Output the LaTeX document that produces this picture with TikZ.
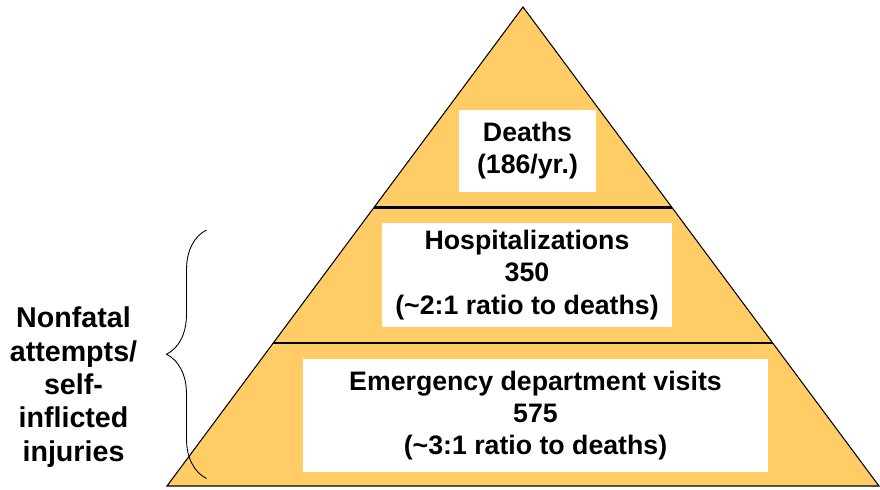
\documentclass[tikz,border=0pt]{standalone}
\usepackage{fontspec}
\setmainfont{Liberation Sans}
\usetikzlibrary{calc,decorations.pathreplacing}

\definecolor{pyrfill}{RGB}{255,204,102}

\begin{document}
\begin{tikzpicture}[tierbox/.style={fill=white,align=center,inner sep=0pt,font=\bfseries\fontsize{15.2}{18.3}\selectfont},
  tierline/.style={line width=1.6pt}]

  \useasboundingbox (0,0) rectangle (17.6,9.78);

  \coordinate (top) at (10.46,9.64);
  \coordinate (bl) at (3.34,0.06);
  \coordinate (br) at (17.58,0.06);

  \draw[fill=pyrfill,line width=0.6pt] (top) -- (bl) -- (br) -- cycle;

  \coordinate (l1) at ($(top)!0.4186!(bl)$);
  \coordinate (r1) at ($(top)!0.4186!(br)$);
  \coordinate (l2) at ($(top)!0.7015!(bl)$);
  \coordinate (r2) at ($(top)!0.7015!(br)$);
  \draw[tierline] (l1) -- (r1);
  \draw[tierline] (l2) -- (r2);

  \node[tierbox,minimum width=2.74cm,minimum height=1.64cm] (deaths) at (10.55,6.76) {Deaths\\(186/yr.)};
  \node[tierbox,minimum width=5.8cm,minimum height=2.08cm] (hosp) at (10.54,4.28) {Hospitalizations\\350\\(\textasciitilde2:1 ratio to deaths)};
  \node[tierbox,minimum width=9.3cm,minimum height=2.26cm] (ed) at (10.71,1.47) {Emergency department visits\\575\\(\textasciitilde3:1 ratio to deaths)};

  \coordinate (bracelo) at (4.13,0.21);
  \coordinate (bracehi) at (4.13,5.18);
  \draw[line width=0.5pt,decorate,decoration={brace,amplitude=0.8cm}] (bracelo) -- (bracehi);

  \node[align=center,inner sep=0pt,font=\bfseries\fontsize{16.3}{19}\selectfont] (nonfatal) at (1.47,2.04) {Nonfatal\\attempts/\\self-\\inflicted\\injuries};

\end{tikzpicture}
\end{document}
